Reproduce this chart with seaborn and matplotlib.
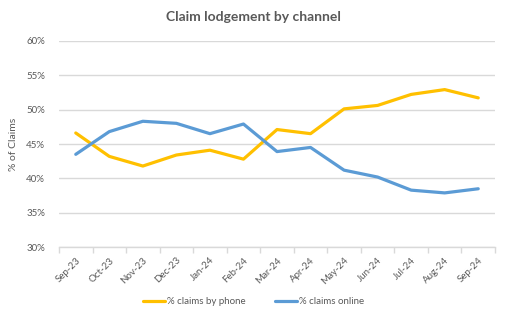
import matplotlib
matplotlib.use("Agg")
import matplotlib.pyplot as plt
import seaborn as sns
import pandas as pd
from matplotlib.ticker import FixedLocator, PercentFormatter

months = ["Sep-23", "Oct-23", "Nov-23", "Dec-23", "Jan-24", "Feb-24", "Mar-24",
          "Apr-24", "May-24", "Jun-24", "Jul-24", "Aug-24", "Sep-24"]
phone = [46.6, 43.2, 41.8, 43.4, 44.1, 42.8, 47.1, 46.5, 50.1, 50.6, 52.2, 52.9, 51.7]
online = [43.5, 46.8, 48.3, 48.0, 46.5, 47.9, 43.9, 44.5, 41.2, 40.2, 38.3, 37.9, 38.5]
series_names = ["% claims by phone", "% claims online"]
colors = ["#FFC000", "#5B9BD5"]

df = pd.DataFrame({
    "idx": list(range(len(months))) * 2,
    "value": phone + online,
    "series": [series_names[0]] * len(months) + [series_names[1]] * len(months),
})

sns.set_theme(style="white")
plt.rcParams["font.family"] = ["Lato", "DejaVu Sans"]

fig = plt.figure(figsize=(5.07, 3.21), dpi=100)
ax = fig.add_axes([59 / 507, 1 - 247.3 / 321, (495 - 59) / 507, (247.3 - 40.7) / 321])

sns.lineplot(data=df, x="idx", y="value", hue="series", palette=colors,
             linewidth=2.3, ax=ax, legend=False)

ax.set_xlim(-0.5, len(months) - 0.5)
ax.set_ylim(30, 60)
ax.set_yticks(range(30, 61, 5))
ax.yaxis.set_major_formatter(PercentFormatter(decimals=0))
ax.grid(axis="y", color="#D9D9D9", linewidth=1)
ax.set_axisbelow(True)

ax.set_xticks(range(len(months)))
ax.set_xticklabels(months, rotation=45, ha="right", rotation_mode="anchor")
ax.xaxis.set_minor_locator(FixedLocator([i - 0.5 for i in range(len(months) + 1)]))
ax.tick_params(axis="x", which="major", length=0, pad=6, labelsize=7, colors="#595959")
ax.tick_params(axis="x", which="minor", length=4, color="#D9D9D9", width=1, direction="out")
ax.tick_params(axis="x", which="both", bottom=True)
ax.tick_params(axis="y", length=0, labelsize=7, colors="#595959", pad=10)

for s in ["top", "right", "left"]:
    ax.spines[s].set_visible(False)
ax.spines["bottom"].set_color("#D9D9D9")
ax.spines["bottom"].set_linewidth(1)

ax.set_xlabel("")
ax.set_ylabel("% of Claims", fontsize=7.5, color="#595959", labelpad=6)
fig.text(0.5, 1 - 17 / 321, "Claim lodgement by channel", ha="center", va="center",
         fontsize=10, fontweight="bold", color="#595959")

from matplotlib.lines import Line2D
handles = [Line2D([0], [0], color=c, linewidth=2.3) for c in colors]
fig.legend(handles, series_names, loc="center", bbox_to_anchor=(0.5, 1 - 302 / 321),
           ncol=2, frameon=False, fontsize=7, labelcolor="#595959",
           handlelength=2.3, handletextpad=0.2, columnspacing=3)

fig.savefig("out.png", dpi=100)
